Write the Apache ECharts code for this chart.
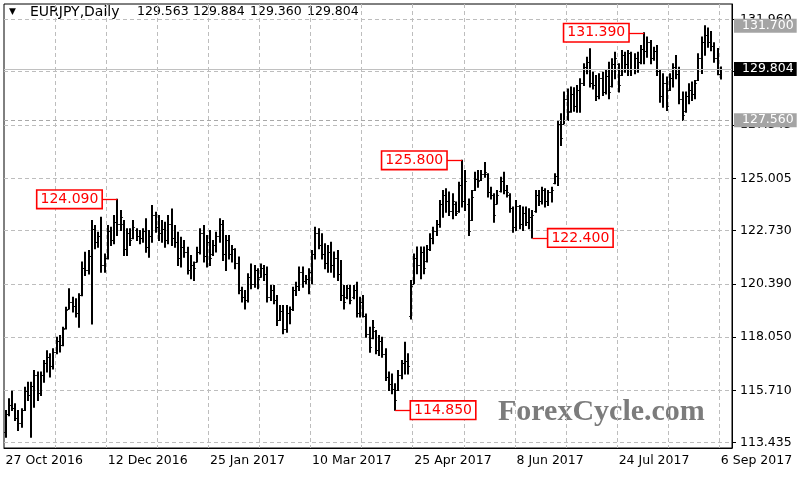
<!DOCTYPE html>
<html><head><meta charset="utf-8">
<script src="https://cdn.jsdelivr.net/npm/echarts@6/dist/echarts.min.js"></script>
<style>html,body{margin:0;padding:0;background:#fff}#c{width:800px;height:480px}</style>
</head><body><div id="c"></div>
<script>
const symbolName = 'EURJPY,Daily';
const dateTickLabels = ['27 Oct 2016','12 Dec 2016','25 Jan 2017','10 Mar 2017','25 Apr 2017','8 Jun 2017','24 Jul 2017','6 Sep 2017'];
const dateTickStep = 32;
const priceTicks = [113.435,115.710,118.050,120.390,122.730,125.005,127.345,129.685,131.960];
const priceTickLabels = ['113.435','115.710','118.050','120.390','122.730','125.005','127.345','129.685','131.960'];

const openP = [
113.90,114.70,115.10,114.95,114.50,114.30,114.85,115.70,115.50,115.90,
116.40,115.60,116.40,116.90,117.20,116.80,117.40,117.90,117.70,118.45,
119.30,119.60,119.40,119.10,119.90,121.10,121.00,121.60,122.80,122.20,
122.50,121.20,121.50,122.70,122.30,123.10,123.00,123.00,121.90,122.60,
122.40,122.75,122.50,122.40,122.70,122.00,122.50,123.40,122.90,122.60,
122.80,122.30,123.00,122.40,122.20,121.50,122.00,121.80,121.00,121.20,
121.35,121.80,122.60,121.60,122.20,121.70,122.10,122.50,123.00,121.70,
122.30,121.70,121.90,121.30,120.10,119.80,119.70,120.70,120.40,121.00,
120.70,121.10,120.80,119.80,120.10,119.70,118.80,119.20,118.40,119.10,
119.30,120.10,120.30,120.90,120.50,120.60,120.90,121.70,122.60,122.10,
121.70,121.30,121.80,121.20,121.50,120.80,119.90,119.80,120.20,119.80,
120.10,119.10,119.60,119.00,118.20,118.00,118.30,117.50,117.90,117.30,
116.30,116.00,115.80,115.75,116.40,116.90,117.00,119.00,120.40,121.50,
121.20,121.80,121.40,121.90,122.40,122.70,123.00,123.90,124.30,124.00,
123.60,123.90,123.60,124.70,124.00,123.90,123.20,124.50,125.00,124.95,
125.20,125.20,124.40,124.30,123.90,124.45,124.90,124.50,124.30,123.70,
122.90,123.80,123.00,123.50,123.10,123.30,123.60,124.30,124.00,124.50,
124.00,124.40,124.80,125.10,127.40,127.40,128.50,127.95,128.70,128.20,
128.90,129.20,129.90,130.10,129.20,129.10,128.60,129.40,128.80,129.50,
129.05,130.00,130.00,129.55,130.40,130.00,130.50,129.80,130.30,130.10,
130.70,130.60,131.00,130.30,130.60,129.70,128.60,129.20,128.90,129.40,
129.90,129.60,128.50,127.95,128.60,128.90,128.70,129.30,130.30,131.00,
131.30,131.00,130.80,130.30,129.563];

const highP = [
114.84,115.35,115.68,115.13,114.84,114.91,115.86,116.08,116.08,116.59,
116.52,116.52,117.03,117.46,117.32,117.54,118.05,118.12,118.49,119.36,
120.17,119.80,119.73,119.95,121.34,121.77,121.85,123.16,122.94,122.65,
123.31,121.70,122.94,122.87,123.38,124.09,123.60,123.16,122.80,122.80,
123.16,122.80,122.72,122.80,123.24,122.72,123.82,123.53,123.38,123.16,
123.09,123.38,123.67,122.94,122.65,122.43,122.29,121.99,121.63,121.34,
121.99,122.80,122.94,122.51,122.73,122.29,122.65,123.24,123.16,122.51,
122.51,122.07,121.92,121.56,120.24,120.10,120.83,121.26,121.19,121.05,
121.26,121.19,121.12,120.32,120.32,119.88,119.44,119.44,119.44,119.37,
120.24,120.46,121.12,121.12,120.75,121.05,121.85,122.87,122.80,122.58,
122.14,122.07,122.21,121.78,121.85,121.41,120.32,120.32,120.32,120.32,
120.46,119.80,119.88,119.07,118.49,118.78,118.34,118.12,118.05,117.54,
116.52,116.44,116.01,116.59,117.03,117.83,117.32,120.53,121.70,122.00,
122.00,122.00,122.07,122.58,122.87,123.16,124.04,124.48,124.55,124.41,
124.33,123.97,124.84,125.80,125.35,124.11,124.48,125.28,125.35,125.35,
125.70,125.21,124.62,124.33,124.48,125.06,125.28,124.70,124.33,123.75,
124.04,123.82,123.75,123.75,123.68,123.60,124.48,124.48,124.62,124.55,
124.48,124.62,125.21,127.55,127.84,128.79,128.93,129.01,128.98,129.08,
129.37,130.03,130.32,130.69,129.66,129.52,129.59,129.66,129.74,130.10,
130.25,130.54,130.03,130.61,130.54,130.61,130.54,130.47,130.54,130.83,
131.39,131.20,131.05,130.76,130.83,129.74,129.59,129.45,129.59,130.03,
130.39,129.88,128.79,128.79,129.15,129.23,129.30,130.47,131.20,131.70,
131.60,131.45,130.95,130.70,129.884];

const lowP = [
113.67,114.61,114.84,114.40,113.96,114.10,114.84,115.27,113.67,114.98,
115.27,115.49,116.08,116.52,116.30,116.66,117.32,117.40,117.68,118.41,
119.29,119.15,118.93,118.49,119.87,120.75,120.82,118.63,121.92,121.99,
120.90,120.90,121.48,122.07,122.14,122.51,122.72,121.63,121.63,122.07,
122.36,122.29,122.14,122.21,121.77,121.55,122.21,122.65,122.29,122.21,
121.99,122.14,122.07,121.99,121.19,121.12,121.55,120.82,120.61,120.53,
121.34,121.70,121.34,121.12,121.19,121.63,121.78,122.21,121.41,120.97,
121.48,121.34,121.05,119.95,119.59,119.29,119.59,120.17,120.24,120.17,
120.68,120.53,119.59,119.66,119.51,118.56,118.78,118.20,118.27,118.64,
119.22,119.88,120.10,120.24,120.39,119.95,120.39,121.48,121.92,121.48,
121.05,120.90,120.90,120.68,120.53,119.66,119.29,119.73,119.51,119.73,
118.93,118.93,118.93,118.05,117.39,117.98,117.32,117.25,117.17,116.15,
115.71,115.57,114.85,115.71,116.23,116.44,116.44,118.85,120.39,120.83,
120.61,120.83,121.34,121.85,122.14,122.51,122.87,123.31,123.53,123.38,
123.24,123.38,123.53,123.75,123.60,122.51,123.16,124.48,124.62,124.92,
125.06,124.19,124.11,123.09,123.89,124.41,124.33,124.19,123.53,122.65,
122.73,122.80,122.73,122.94,122.80,122.40,123.53,123.82,123.89,123.75,
123.82,123.97,124.77,124.70,126.45,127.40,127.55,127.91,127.95,127.91,
127.91,129.08,129.59,129.01,128.93,128.42,128.50,128.64,128.71,128.50,
129.01,129.37,128.79,129.52,129.66,129.52,129.52,129.59,129.66,130.03,
130.03,130.32,130.03,130.18,129.52,128.35,128.13,127.98,128.86,129.01,
129.37,128.28,127.55,127.91,128.28,128.42,128.50,129.30,129.60,130.40,
130.76,130.60,130.10,129.55,129.360];

const closeP = [
114.70,115.10,114.95,114.50,114.30,114.85,115.70,115.50,115.90,116.40,
115.60,116.40,116.90,117.20,116.80,117.40,117.90,117.70,118.40,119.25,
119.60,119.40,119.10,119.90,121.10,121.00,121.60,122.80,122.20,122.50,
121.20,121.50,122.70,122.30,123.10,123.00,123.30,121.90,122.60,122.30,
122.90,122.50,122.40,122.70,122.00,122.50,123.40,122.90,122.60,122.80,
122.30,123.00,122.40,122.20,121.50,122.00,121.80,121.00,121.20,121.10,
121.80,122.60,121.60,122.20,121.50,122.10,122.50,123.00,121.70,122.30,
121.70,121.90,121.30,120.10,119.80,119.70,120.70,120.40,121.00,120.60,
121.10,120.80,119.80,120.10,119.70,118.80,119.20,118.40,119.10,119.30,
120.10,120.30,120.90,120.50,120.60,120.90,121.70,122.60,122.10,121.70,
121.30,121.80,121.20,121.50,120.80,119.90,119.60,120.20,119.70,120.10,
119.10,119.60,119.00,118.20,117.60,118.50,117.50,117.90,117.30,116.30,
116.00,115.80,115.30,116.40,116.90,117.00,116.80,120.30,121.50,121.20,
121.80,121.10,121.90,122.40,122.70,123.00,123.90,124.30,124.00,123.60,
124.00,123.50,124.70,124.00,124.90,122.70,124.20,125.00,124.90,125.20,
125.30,124.40,124.30,123.40,124.30,124.90,124.50,124.40,123.70,122.90,
123.80,123.00,123.50,123.10,123.30,123.40,124.30,124.00,124.50,124.00,
124.40,124.50,125.10,127.40,126.80,128.50,127.90,128.70,128.20,128.90,
129.20,129.90,130.10,129.20,129.10,128.60,129.40,128.80,129.50,128.80,
130.00,130.30,129.10,130.40,130.00,130.50,129.80,130.30,130.10,130.70,
130.60,131.00,130.30,130.60,129.70,128.60,129.20,128.20,129.40,129.90,
129.60,128.50,127.80,128.60,128.90,128.70,129.20,130.30,131.00,131.30,
131.00,130.80,130.30,129.60,129.804];

const currentPrice = 129.804;
const levelPrices = [131.700, 127.560];
const annotations = [
  {bar: 35,  value: 124.090, text: '124.090', side: 'left'},
  {bar: 143, value: 125.800, text: '125.800', side: 'left'},
  {bar: 122, value: 114.850, text: '114.850', side: 'right'},
  {bar: 165, value: 122.400, text: '122.400', side: 'right'},
  {bar: 200, value: 131.390, text: '131.390', side: 'left'}
];

// ---------- chart ----------
const FONT = '"DejaVu Sans", sans-serif';
const emptySlots = 3;
const categories = Array.from({length: openP.length + emptySlots}, (_, i) => String(i));
const rows = openP.map((o, i) => [i, o, highP[i], lowP[i], closeP[i]]);
const last = openP.length - 1;

function renderBar(params, api) {
  const i = api.value(0);
  const pO = api.coord([i, api.value(1)]);
  const pH = api.coord([i, api.value(2)]);
  const pL = api.coord([i, api.value(3)]);
  const pC = api.coord([i, api.value(4)]);
  const x = Math.round(pH[0]);
  return {type: 'group', children: [
    {type: 'line', shape: {x1: x, y1: pH[1] - 0.5, x2: x, y2: pL[1] + 0.5}, style: {stroke: '#000', lineWidth: 2}},
    {type: 'line', shape: {x1: x - 1.8, y1: Math.round(pO[1]) + 0.5, x2: x, y2: Math.round(pO[1]) + 0.5}, style: {stroke: '#000', lineWidth: 1}},
    {type: 'line', shape: {x1: x, y1: Math.round(pC[1]) + 0.5, x2: x + 1.8, y2: Math.round(pC[1]) + 0.5}, style: {stroke: '#000', lineWidth: 1}}
  ]};
}

const axisBox = (bg) => ({
  show: true, position: 'end', distance: 2, color: '#fff', backgroundColor: bg,
  fontFamily: FONT, fontSize: 12.5, lineHeight: 13, padding: [1, 3, 0, 8]
});

const markData = [
  {yAxis: currentPrice, lineStyle: {color: '#c0c0c0', type: 'solid', width: 1},
   label: Object.assign(axisBox('#000'), {formatter: currentPrice.toFixed(3)})},
  {yAxis: levelPrices[0], lineStyle: {color: 'rgba(0,0,0,0)', width: 1},
   label: Object.assign(axisBox('#a4a4a4'), {formatter: levelPrices[0].toFixed(3)})},
  {yAxis: levelPrices[1], lineStyle: {color: '#a8a8a8', type: [4, 3], width: 1},
   label: Object.assign(axisBox('#a4a4a4'), {formatter: levelPrices[1].toFixed(3)})}
];
annotations.forEach(a => {
  const from = a.side === 'left' ? a.bar - 5 : a.bar;
  const to = a.side === 'left' ? a.bar : a.bar + 5;
  markData.push([
    {coord: [from, a.value], lineStyle: {color: '#ff0000', type: 'solid', width: 1.3},
     label: {show: true, position: a.side === 'left' ? 'start' : 'end', distance: 0,
       formatter: a.text, color: '#ff0000', fontFamily: FONT, fontSize: 14,
       backgroundColor: '#fff', borderColor: '#ff0000', borderWidth: 1.6, padding: [2, 3, 1, 3]}},
    {coord: [to, a.value]}
  ]);
});

const headerVals = [openP[last], highP[last], lowP[last], closeP[last]].map(v => v.toFixed(3));
const headerX = [137, 193, 250, 307];

const chart = echarts.init(document.getElementById('c'), null, {renderer: 'canvas'});
chart.setOption({
  animation: false,
  backgroundColor: '#fff',
  grid: {left: 4, right: 68, top: 4, bottom: 32, show: true, borderColor: '#000', borderWidth: 1, backgroundColor: 'transparent'},
  xAxis: {
    type: 'category', data: categories, boundaryGap: true,
    axisLine: {lineStyle: {color: '#000', width: 1}},
    axisTick: {alignWithLabel: true, length: 4, lineStyle: {color: '#000'},
      interval: (idx) => idx % dateTickStep === 0 && idx < openP.length},
    axisLabel: {interval: (idx) => idx % dateTickStep === 0 && idx < openP.length,
      formatter: (v, idx) => dateTickLabels[Math.round(idx / dateTickStep)] || '',
      align: 'left', margin: 6, color: '#000', fontFamily: FONT, fontSize: 12.5},
    splitLine: {show: true, interval: (idx) => idx % 16 === 0 && idx > 0,
      lineStyle: {color: '#bdbdbd', type: [4, 3], width: 1}}
  },
  yAxis: {
    type: 'value', position: 'right', min: 113.194, max: 132.65,
    axisLine: {show: true, lineStyle: {color: '#000', width: 1}},
    axisTick: {show: true, length: 4, customValues: priceTicks, lineStyle: {color: '#000'}},
    axisLabel: {customValues: priceTicks, margin: 8, color: '#000', fontFamily: FONT, fontSize: 12.5,
      formatter: (v) => { const k = priceTicks.findIndex(t => Math.abs(t - v) < 1e-6); return k >= 0 ? priceTickLabels[k] : ''; }},
    splitLine: {show: true, lineStyle: {color: '#bdbdbd', type: [4, 3], width: 1}}
  },
  series: [
    {type: 'custom', renderItem: renderBar, data: rows, encode: {x: 0, y: [1, 2, 3, 4]}, z: 3},
    {type: 'line', data: [], symbol: 'none', z: 4,
     markLine: {silent: true, symbol: ['none', 'none'], animation: false, data: markData}}
  ],
  graphic: [
    {type: 'text', left: 9, top: 7, style: {text: '▼', font: '9px ' + FONT, fill: '#000'}},
    {type: 'text', left: 30, top: 5, style: {text: symbolName, font: '14px ' + FONT, fill: '#000'}}
  ].concat(headerVals.map((t, k) => ({type: 'text', left: headerX[k], top: 5, style: {text: t, font: '12.5px ' + FONT, fill: '#000'}})))
   .concat([{type: 'text', left: 498, top: 397, style: {text: 'ForexCycle.com', font: 'bold 30px "Liberation Serif", serif', fill: '#7c7c7c'}}])
});
</script></body></html>
